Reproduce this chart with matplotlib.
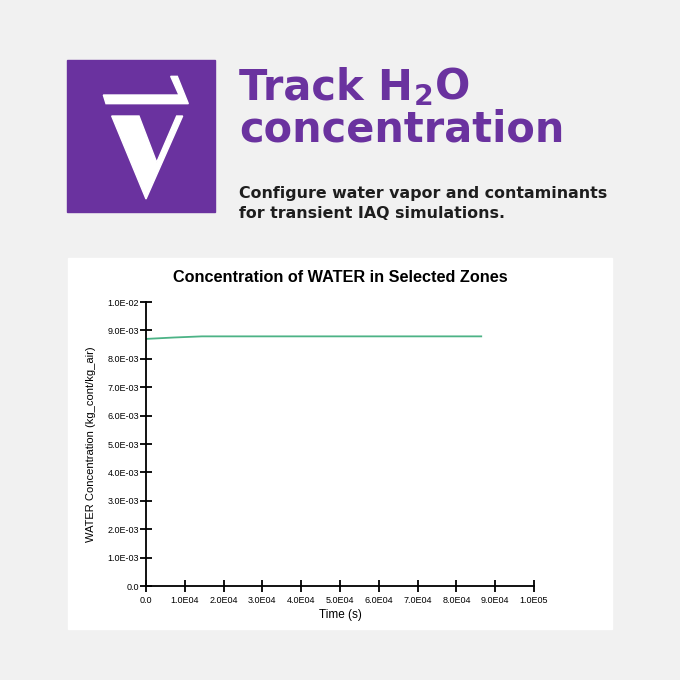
import matplotlib.pyplot as plt
from matplotlib.patches import Rectangle, Polygon

# data
time_s = [0, 3600, 7200, 10800, 14400, 86400]
water = [8.70e-3, 8.725e-3, 8.75e-3, 8.77e-3, 8.79e-3, 8.79e-3]

x_ticks = [0, 1e4, 2e4, 3e4, 4e4, 5e4, 6e4, 7e4, 8e4, 9e4, 1e5]
x_labels = ['0.0', '1.0E04', '2.0E04', '3.0E04', '4.0E04', '5.0E04',
            '6.0E04', '7.0E04', '8.0E04', '9.0E04', '1.0E05']
y_ticks = [0, 1e-3, 2e-3, 3e-3, 4e-3, 5e-3, 6e-3, 7e-3, 8e-3, 9e-3, 1e-2]
y_labels = ['0.0', '1.0E-03', '2.0E-03', '3.0E-03', '4.0E-03', '5.0E-03',
            '6.0E-03', '7.0E-03', '8.0E-03', '9.0E-03', '1.0E-02']

purple = '#6a329f'
line_green = '#4cb386'
W = H = 680

fig = plt.figure(figsize=(6.8, 6.8), dpi=100, facecolor='#f1f1f1')

# pixel-coordinate layer for the poster part
bg = fig.add_axes([0, 0, 1, 1])
bg.set_xlim(0, W)
bg.set_ylim(H, 0)
bg.axis('off')

# logo
bg.add_patch(Rectangle((67, 60), 148, 152, color=purple))
def zpt(pts):
    return [(60 + x / 3, 55 + y / 3) for x, y in pts]
bar = zpt([(130, 120), (357, 120), (332, 64), (352, 64), (385, 146), (138, 146)])
vee = zpt([(155, 183), (237, 183), (290, 322), (350, 183), (368, 183), (258, 432)])
bg.add_patch(Polygon(bar, closed=True, color='white'))
bg.add_patch(Polygon(vee, closed=True, color='white'))

fig.canvas.draw()
r = fig.canvas.get_renderer()

def px_width(t):
    return t.get_window_extent(renderer=r).width

def fit_text(x, y, s, target_w, size, **kw):
    # scale font so the text spans about target_w pixels
    t = bg.text(x, y, s, fontsize=size, va='baseline', **kw)
    t.set_fontsize(size * target_w / px_width(t))
    return t

# headline
x0 = 239
head_font = dict(family='DejaVu Sans', weight='bold', color=purple)
t4 = fit_text(x0, 142, 'concentration', 325, 29, **head_font)
hs = t4.get_fontsize()
t1 = bg.text(x0, 100, 'Track H', fontsize=hs, va='baseline', **head_font)
w1 = px_width(t1)
t2 = bg.text(x0 + w1 + 1, 105, '2', fontsize=hs * 0.68, va='baseline', **head_font)
w2 = px_width(t2)
bg.text(x0 + w1 + w2 + 2, 100, 'O', fontsize=hs, va='baseline', **head_font)

# subtitle
sub_font = dict(family='DejaVu Sans', weight='bold', color='#1e1e1e')
s1 = fit_text(x0, 198, 'Configure water vapor and contaminants', 366, 13, **sub_font)
bg.text(x0, 218, 'for transient IAQ simulations.', fontsize=s1.get_fontsize(),
        va='baseline', **sub_font)

# white chart panel
bg.add_patch(Rectangle((68, 258), 544, 371, color='white'))
bg.text(340, 282, 'Concentration of WATER in Selected Zones', ha='center',
        va='baseline', family='Liberation Sans', weight='bold', fontsize=11.7)

# chart axes
ax_l, ax_r, ax_t, ax_b = 146, 534, 302, 586
ax = fig.add_axes([ax_l / W, 1 - ax_b / H, (ax_r - ax_l) / W, (ax_b - ax_t) / H])
ax.patch.set_alpha(0)
ax.plot(time_s, water, color=line_green, lw=1.3)
ax.set_xlim(0, 1e5)
ax.set_ylim(0, 1e-2)
ax.set_xticks(x_ticks, x_labels)
ax.set_yticks(y_ticks, y_labels)
for s in ['top', 'right']:
    ax.spines[s].set_visible(False)
for s in ['left', 'bottom']:
    ax.spines[s].set_linewidth(1.3)
ax.tick_params(direction='inout', length=8, width=1.3, labelsize=6.5, colors='black')
ax.tick_params(axis='x', pad=3)
ax.tick_params(axis='y', pad=1)
for lab in ax.get_xticklabels() + ax.get_yticklabels():
    lab.set_family('Liberation Sans')
ax.set_xlabel('Time (s)', family='Liberation Sans', fontsize=8.5, labelpad=3)
ax.set_ylabel('WATER Concentration (kg_cont/kg_air)', family='Liberation Sans',
              fontsize=8, labelpad=8)

fig.savefig('out.png', dpi=100, facecolor=fig.get_facecolor())
